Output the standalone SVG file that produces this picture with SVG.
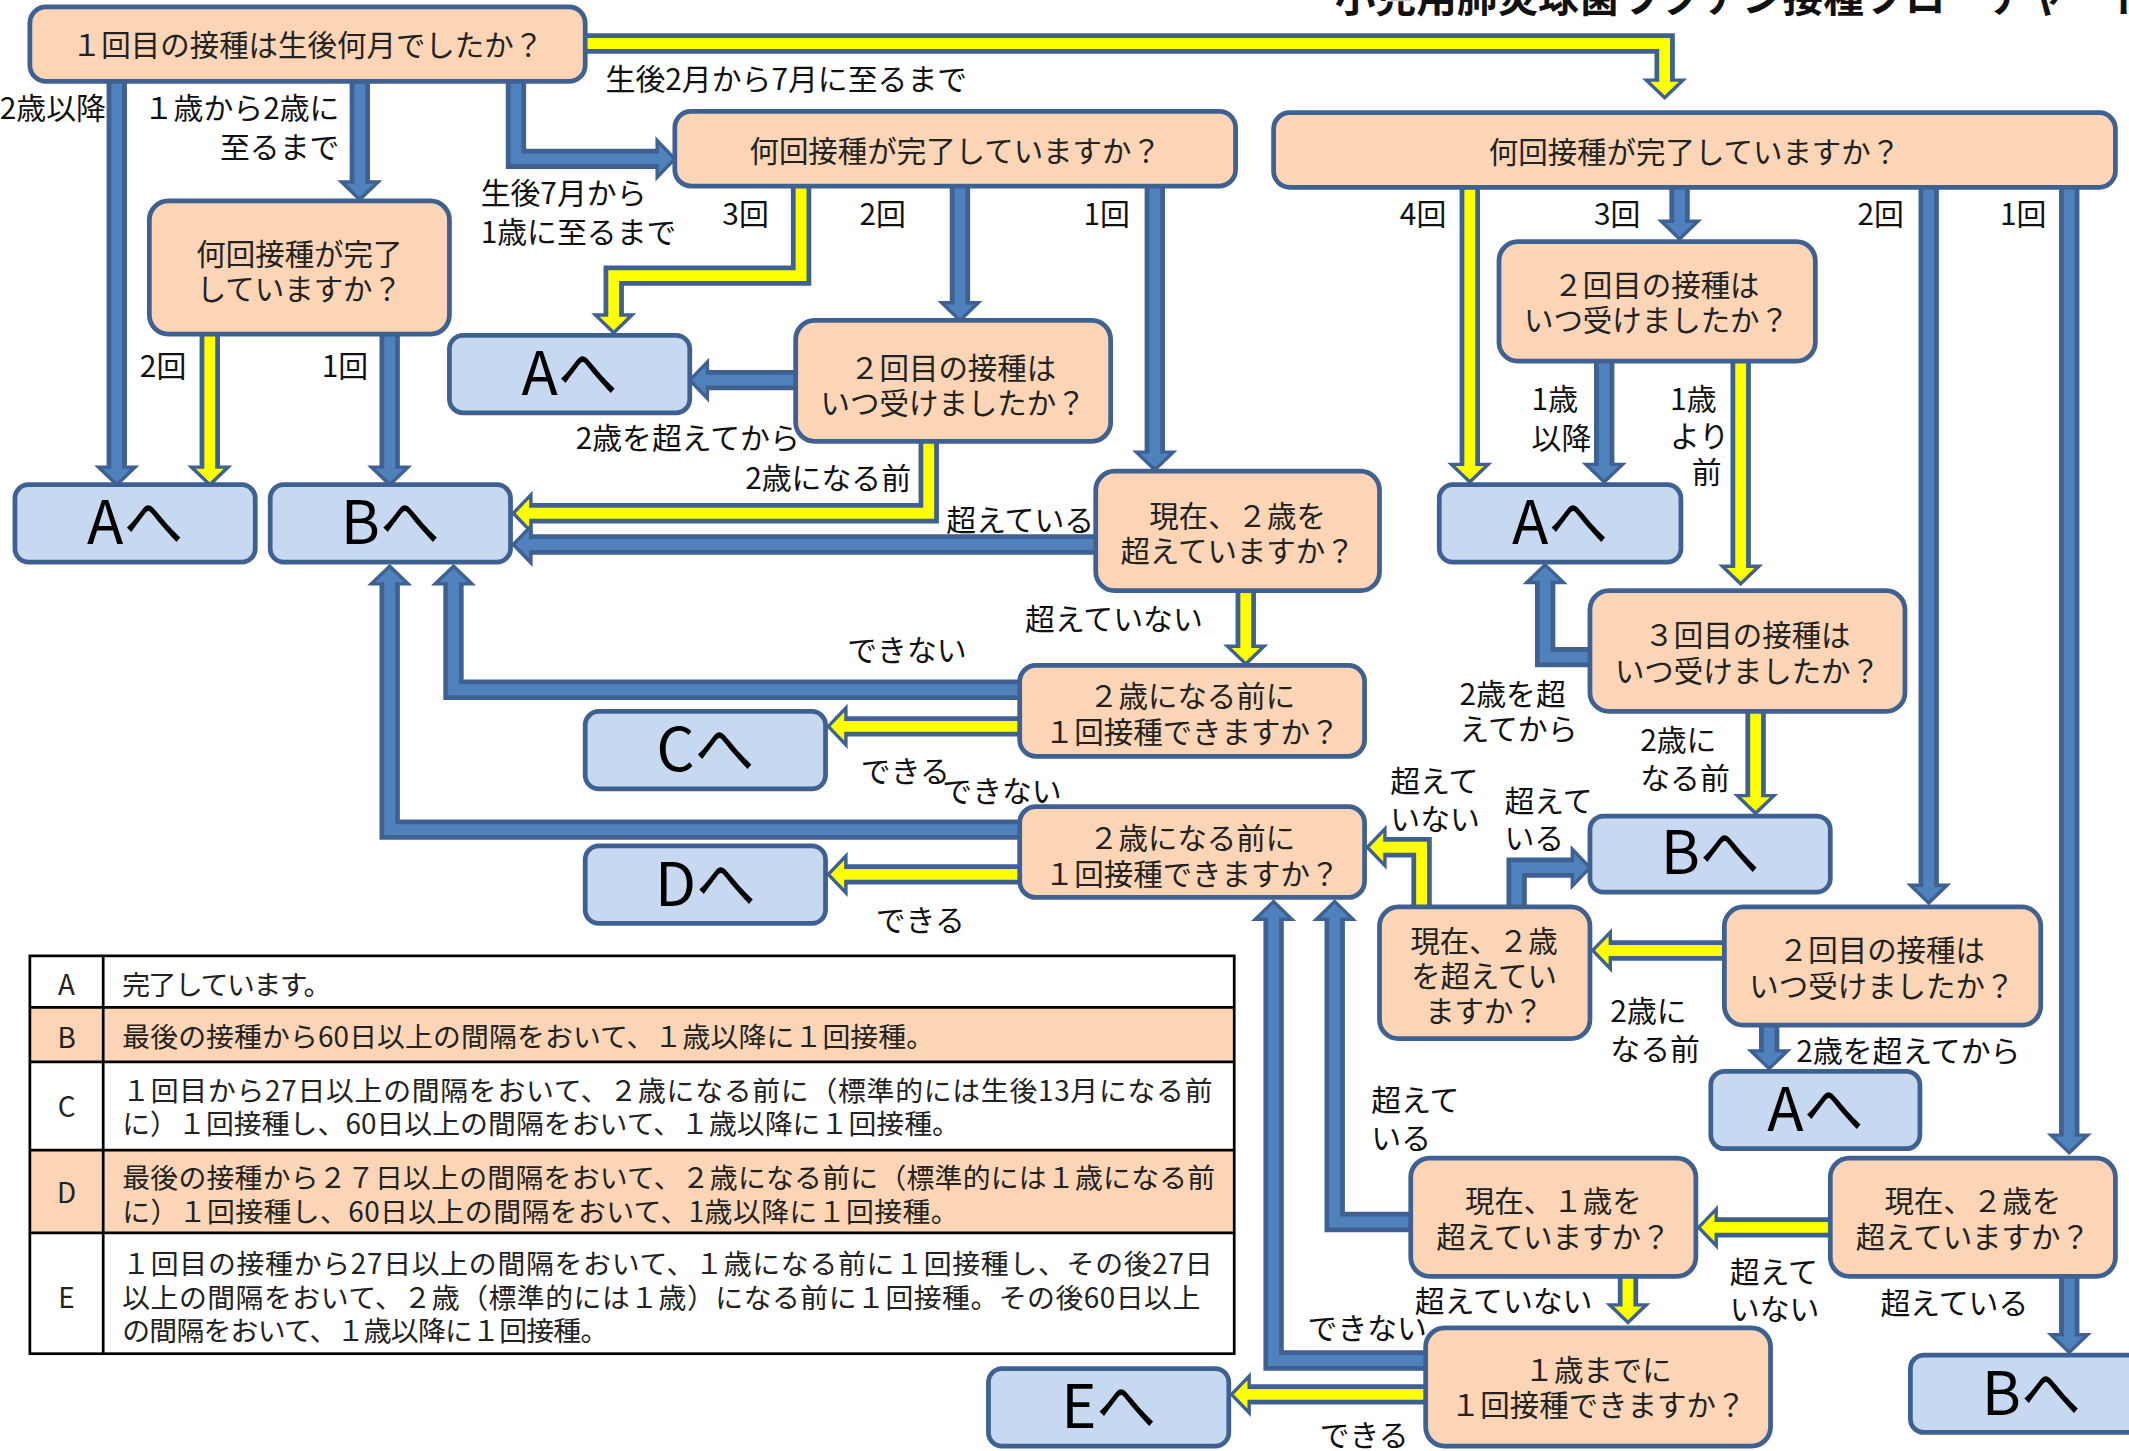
<svg xmlns="http://www.w3.org/2000/svg" xmlns:xlink="http://www.w3.org/1999/xlink" width="2129" height="1451" viewBox="0 0 2129 1451">
<style>
text{font-family:'Noto Sans CJK JP','Noto Sans',sans-serif;fill:#111}
.q rect{fill:#FBD5B5;stroke:#3E6191;stroke-width:3.5}
.r rect{fill:#C6D9F1;stroke:#3E6191;stroke-width:3.5}
.q text{font-size:21.7px;text-anchor:middle;fill:#222}
.r text{font-size:44px;text-anchor:middle;fill:#000}
.o{fill:none;stroke:#3E6191;stroke-width:15;stroke-linejoin:miter;stroke-linecap:butt}
.ib{fill:none;stroke:#4F81BD;stroke-width:8;stroke-linejoin:miter;stroke-linecap:butt}
.iy{fill:none;stroke:#FFFF00;stroke-width:8;stroke-linejoin:miter;stroke-linecap:butt}
.hb{fill:#4F81BD;stroke:#3E6191;stroke-width:2.5;stroke-linejoin:miter}
.hy{fill:#FFFF00;stroke:#3E6191;stroke-width:2.5;stroke-linejoin:miter}
.lb text{font-size:22px}
.e{text-anchor:end}
.tb text{font-size:20.5px;fill:#222}
.tb .k{text-anchor:middle}
.tl{stroke:#000;stroke-width:2;fill:none}
.title{font-size:30px;font-weight:bold;fill:#111}
</style>
<defs>
<path id="ah" d="M0,0 L-13,-13.5 L-13,13.5 Z"/>
</defs>
<rect x="0" y="0" width="2129" height="1451" fill="#fff"/>
<g transform="scale(1.35778)">
<text class="title" x="983" y="9">小児用肺炎球菌ワクチン接種フローチャート</text>

<g id="connectors">
<g><path class="o" d="M428,32 H1226 V62"/><use href="#ah" class="hy" transform="translate(1226,72) rotate(90)"/><path class="iy" d="M428,32 H1226 V62"/></g>
<g><path class="o" d="M86,55 V347"/><use href="#ah" class="hb" transform="translate(86,357) rotate(90)"/><path class="ib" d="M86,55 V347"/></g>
<g><path class="o" d="M265,55 V137"/><use href="#ah" class="hb" transform="translate(265,147) rotate(90)"/><path class="ib" d="M265,55 V137"/></g>
<g><path class="o" d="M380,55 V117 H487"/><use href="#ah" class="hb" transform="translate(497,117)"/><path class="ib" d="M380,55 V117 H487"/></g>
<g><path class="o" d="M154.5,240 V347"/><use href="#ah" class="hy" transform="translate(154.5,357) rotate(90)"/><path class="iy" d="M154.5,240 V347"/></g>
<g><path class="o" d="M287,240 V347"/><use href="#ah" class="hb" transform="translate(287,357) rotate(90)"/><path class="ib" d="M287,240 V347"/></g>
<g><path class="o" d="M590,132 V203 H452 V235"/><use href="#ah" class="hy" transform="translate(452,245) rotate(90)"/><path class="iy" d="M590,132 V203 H452 V235"/></g>
<g><path class="o" d="M707,132 V226"/><use href="#ah" class="hb" transform="translate(707,236) rotate(90)"/><path class="ib" d="M707,132 V226"/></g>
<g><path class="o" d="M850.5,132 V336"/><use href="#ah" class="hb" transform="translate(850.5,346) rotate(90)"/><path class="ib" d="M850.5,132 V336"/></g>
<g><path class="o" d="M590,280 H518"/><use href="#ah" class="hb" transform="translate(508,280) rotate(180)"/><path class="ib" d="M590,280 H518"/></g>
<g><path class="o" d="M684,320 V378 H388"/><use href="#ah" class="hy" transform="translate(378,378) rotate(180)"/><path class="iy" d="M684,320 V378 H388"/></g>
<g><path class="o" d="M810,401 H388"/><use href="#ah" class="hb" transform="translate(378,401) rotate(180)"/><path class="ib" d="M810,401 H388"/></g>
<g><path class="o" d="M917.5,430 V479"/><use href="#ah" class="hy" transform="translate(917.5,489) rotate(90)"/><path class="iy" d="M917.5,430 V479"/></g>
<g><path class="o" d="M755,508 H334 V427"/><use href="#ah" class="hb" transform="translate(334,417) rotate(-90)"/><path class="ib" d="M755,508 H334 V427"/></g>
<g><path class="o" d="M755,535 H620"/><use href="#ah" class="hy" transform="translate(610,535) rotate(180)"/><path class="iy" d="M755,535 H620"/></g>
<g><path class="o" d="M755,611 H287 V427"/><use href="#ah" class="hb" transform="translate(287,417) rotate(-90)"/><path class="ib" d="M755,611 H287 V427"/></g>
<g><path class="o" d="M755,644 H620"/><use href="#ah" class="hy" transform="translate(610,644) rotate(180)"/><path class="iy" d="M755,644 H620"/></g>
<g><path class="o" d="M1082.5,133 V345"/><use href="#ah" class="hy" transform="translate(1082.5,355) rotate(90)"/><path class="iy" d="M1082.5,133 V345"/></g>
<g><path class="o" d="M1237,133 V166"/><use href="#ah" class="hb" transform="translate(1237,176) rotate(90)"/><path class="ib" d="M1237,133 V166"/></g>
<g><path class="o" d="M1420.5,133 V655"/><use href="#ah" class="hb" transform="translate(1420.5,665) rotate(90)"/><path class="ib" d="M1420.5,133 V655"/></g>
<g><path class="o" d="M1524,133 V839"/><use href="#ah" class="hb" transform="translate(1524,849) rotate(90)"/><path class="ib" d="M1524,133 V839"/></g>
<g><path class="o" d="M1181.5,262 V345"/><use href="#ah" class="hb" transform="translate(1181.5,355) rotate(90)"/><path class="ib" d="M1181.5,262 V345"/></g>
<g><path class="o" d="M1282,262 V420"/><use href="#ah" class="hy" transform="translate(1282,430) rotate(90)"/><path class="iy" d="M1282,262 V420"/></g>
<g><path class="o" d="M1175,484 H1138 V426"/><use href="#ah" class="hb" transform="translate(1138,416) rotate(-90)"/><path class="ib" d="M1175,484 H1138 V426"/></g>
<g><path class="o" d="M1293,520 V589"/><use href="#ah" class="hy" transform="translate(1293,599) rotate(90)"/><path class="iy" d="M1293,520 V589"/></g>
<g><path class="o" d="M1274,700 H1183"/><use href="#ah" class="hy" transform="translate(1173,700) rotate(180)"/><path class="iy" d="M1274,700 H1183"/></g>
<g><path class="o" d="M1117,672 V639 H1161"/><use href="#ah" class="hb" transform="translate(1171,639)"/><path class="ib" d="M1117,672 V639 H1161"/></g>
<g><path class="o" d="M1047,672 V624 H1017"/><use href="#ah" class="hy" transform="translate(1007,624) rotate(180)"/><path class="iy" d="M1047,672 V624 H1017"/></g>
<g><path class="o" d="M1303,750 V777"/><use href="#ah" class="hb" transform="translate(1303,787) rotate(90)"/><path class="ib" d="M1303,750 V777"/></g>
<g><path class="o" d="M1352,904 H1261"/><use href="#ah" class="hy" transform="translate(1251,904) rotate(180)"/><path class="iy" d="M1352,904 H1261"/></g>
<g><path class="o" d="M1524,936 V986"/><use href="#ah" class="hb" transform="translate(1524,996) rotate(90)"/><path class="ib" d="M1524,936 V986"/></g>
<g><path class="o" d="M1199,936 V964"/><use href="#ah" class="hy" transform="translate(1199,974) rotate(90)"/><path class="iy" d="M1199,936 V964"/></g>
<g><path class="o" d="M1043,900 H983 V674"/><use href="#ah" class="hb" transform="translate(983,664) rotate(-90)"/><path class="ib" d="M1043,900 H983 V674"/></g>
<g><path class="o" d="M1054,1002 H938 V674"/><use href="#ah" class="hb" transform="translate(938,664) rotate(-90)"/><path class="ib" d="M1054,1002 H938 V674"/></g>
<g><path class="o" d="M1054,1027 H917"/><use href="#ah" class="hy" transform="translate(907,1027) rotate(180)"/><path class="iy" d="M1054,1027 H917"/></g>
</g>

<g id="q1" class="q"><rect x="22" y="5" width="409" height="55" rx="12"/><text x="226.5" y="41">１回目の接種は生後何月でしたか？</text></g>
<g id="q2" class="q"><rect x="497" y="82" width="413" height="55" rx="12"/><text x="703.5" y="119">何回接種が完了していますか？</text></g>
<g id="q3" class="q"><rect x="938" y="83" width="620" height="55" rx="12"/><text x="1248" y="120">何回接種が完了していますか？</text></g>
<g id="q4" class="q"><rect x="110" y="148" width="221" height="98" rx="14"/><text x="220.5" y="195">何回接種が完了</text><text x="220.5" y="221">していますか？</text></g>
<g id="q5" class="q"><rect x="586" y="236" width="232" height="89" rx="14"/><text x="702" y="279">２回目の接種は</text><text x="702" y="305">いつ受けましたか？</text></g>
<g id="q6" class="q"><rect x="807" y="347" width="209" height="88" rx="14"/><text x="911.5" y="388">現在、２歳を</text><text x="911.5" y="414">超えていますか？</text></g>
<g id="q7" class="q"><rect x="751" y="490" width="254" height="67" rx="12"/><text x="878" y="521">２歳になる前に</text><text x="878" y="547">１回接種できますか？</text></g>
<g id="q8" class="q"><rect x="751" y="594" width="254" height="67" rx="12"/><text x="878" y="625">２歳になる前に</text><text x="878" y="652">１回接種できますか？</text></g>
<g id="q9" class="q"><rect x="1104" y="178" width="233" height="88" rx="14"/><text x="1220" y="218">２回目の接種は</text><text x="1220" y="244">いつ受けましたか？</text></g>
<g id="q10" class="q"><rect x="1171" y="435" width="232" height="89" rx="14"/><text x="1287" y="476">３回目の接種は</text><text x="1287" y="502">いつ受けましたか？</text></g>
<g id="q11" class="q"><rect x="1016" y="668" width="155" height="97" rx="14"/><text x="1093" y="701">現在、２歳</text><text x="1093" y="727">を超えてい</text><text x="1093" y="753">ますか？</text></g>
<g id="q12" class="q"><rect x="1270" y="668" width="233" height="87" rx="14"/><text x="1386" y="708">２回目の接種は</text><text x="1386" y="734">いつ受けましたか？</text></g>
<g id="q13" class="q"><rect x="1039" y="853" width="210" height="87" rx="14"/><text x="1144" y="893">現在、１歳を</text><text x="1144" y="919">超えていますか？</text></g>
<g id="q14" class="q"><rect x="1348" y="853" width="210" height="87" rx="14"/><text x="1453" y="893">現在、２歳を</text><text x="1453" y="919">超えていますか？</text></g>
<g id="q15" class="q"><rect x="1050" y="978" width="254" height="87" rx="14"/><text x="1177" y="1017">１歳までに</text><text x="1177" y="1043">１回接種できますか？</text></g>

<g id="a1" class="r"><rect x="331" y="247" width="177" height="57" rx="10"/><text x="419.5" y="291">Aへ</text></g>
<g id="a2" class="r"><rect x="11" y="357" width="177" height="57" rx="10"/><text x="99.5" y="401">Aへ</text></g>
<g id="b1" class="r"><rect x="199" y="357" width="177" height="57" rx="10"/><text x="287.5" y="401">Bへ</text></g>
<g id="c" class="r"><rect x="431" y="524" width="177" height="57" rx="10"/><text x="519.5" y="568">Cへ</text></g>
<g id="d" class="r"><rect x="431" y="623" width="177" height="57" rx="10"/><text x="519.5" y="667">Dへ</text></g>
<g id="a3" class="r"><rect x="1060" y="357" width="178" height="57" rx="10"/><text x="1149" y="401">Aへ</text></g>
<g id="b2" class="r"><rect x="1171" y="601" width="177" height="56" rx="10"/><text x="1259.5" y="644">Bへ</text></g>
<g id="a4" class="r"><rect x="1260" y="789" width="154" height="57" rx="10"/><text x="1337" y="833">Aへ</text></g>
<g id="e" class="r"><rect x="728" y="1008" width="177" height="57" rx="10"/><text x="816.5" y="1052">Eへ</text></g>
<g id="b3" class="r"><rect x="1407" y="998" width="178" height="57" rx="10"/><text x="1496" y="1042">Bへ</text></g>

<g id="labels" class="lb">
<text class="e" x="78" y="88">2歳以降</text>
<text class="e" x="250" y="88">１歳から2歳に</text>
<text class="e" x="250" y="116">至るまで</text>
<text x="446" y="66">生後2月から7月に至るまで</text>
<text x="354" y="150">生後7月から</text>
<text x="354" y="179">1歳に至るまで</text>
<text x="532" y="166">3回</text>
<text x="633" y="166">2回</text>
<text x="798" y="166">1回</text>
<text x="103" y="278">2回</text>
<text x="237" y="278">1回</text>
<text x="424" y="331">2歳を超えてから</text>
<text class="e" x="671" y="360">2歳になる前</text>
<text x="697" y="391">超えている</text>
<text x="755" y="464">超えていない</text>
<text x="624" y="487">できない</text>
<text x="634" y="576">できる</text>
<text x="694" y="591">できない</text>
<text x="645" y="686">できる</text>
<text x="1031" y="166">4回</text>
<text x="1174" y="166">3回</text>
<text x="1368" y="166">2回</text>
<text x="1473" y="166">1回</text>
<text x="1128" y="302">1歳</text>
<text x="1128" y="331">以降</text>
<text x="1230" y="302">1歳</text>
<text x="1230" y="329">より</text>
<text class="e" x="1268" y="356">前</text>
<text x="1075" y="519">2歳を超</text>
<text x="1075" y="545">えてから</text>
<text x="1208" y="553">2歳に</text>
<text x="1208" y="581">なる前</text>
<text x="1024" y="583">超えて</text>
<text x="1024" y="611">いない</text>
<text x="1108" y="598">超えて</text>
<text x="1108" y="625">いる</text>
<text x="1186" y="753">2歳に</text>
<text x="1186" y="781">なる前</text>
<text x="1323" y="782">2歳を超えてから</text>
<text x="1010" y="818">超えて</text>
<text x="1010" y="846">いる</text>
<text x="1042" y="966">超えていない</text>
<text x="963" y="986">できない</text>
<text x="1274" y="945">超えて</text>
<text x="1274" y="972">いない</text>
<text x="1385" y="968">超えている</text>
<text x="972" y="1065">できる</text>
</g>

<g id="legend" class="tb">
<rect x="22" y="704" width="887" height="293" fill="#fff"/>
<rect x="22" y="742" width="887" height="40" fill="#FBD5B5"/>
<rect x="22" y="847" width="887" height="61" fill="#FBD5B5"/>
<rect class="tl" x="22" y="704" width="887" height="293" stroke-width="2.5"/>
<path class="tl" d="M22,742 H909 M22,782 H909 M22,847 H909 M22,908 H909 M76,704 V997"/>
<text class="k" x="49" y="733">A</text>
<text class="k" x="49" y="772">B</text>
<text class="k" x="49" y="823">C</text>
<text class="k" x="49" y="886">D</text>
<text class="k" x="49" y="963">E</text>
<text x="90" y="733" textLength="154" lengthAdjust="spacing">完了しています。</text>
<text x="90" y="771" textLength="598" lengthAdjust="spacing">最後の接種から60日以上の間隔をおいて、１歳以降に１回接種。</text>
<text x="90" y="811" textLength="803" lengthAdjust="spacing">１回目から27日以上の間隔をおいて、２歳になる前に（標準的には生後13月になる前</text>
<text x="90" y="835" textLength="617" lengthAdjust="spacing">に）１回接種し、60日以上の間隔をおいて、１歳以降に１回接種。</text>
<text x="90" y="875" textLength="805" lengthAdjust="spacing">最後の接種から２７日以上の間隔をおいて、２歳になる前に（標準的には１歳になる前</text>
<text x="90" y="900" textLength="616" lengthAdjust="spacing">に）１回接種し、60日以上の間隔をおいて、1歳以降に１回接種。</text>
<text x="90" y="938" textLength="803" lengthAdjust="spacing">１回目の接種から27日以上の間隔をおいて、１歳になる前に１回接種し、その後27日</text>
<text x="90" y="963" textLength="794" lengthAdjust="spacing">以上の間隔をおいて、２歳（標準的には１歳）になる前に１回接種。その後60日以上</text>
<text x="90" y="988" textLength="358" lengthAdjust="spacing">の間隔をおいて、１歳以降に１回接種。</text>
</g>
</g>
</svg>
